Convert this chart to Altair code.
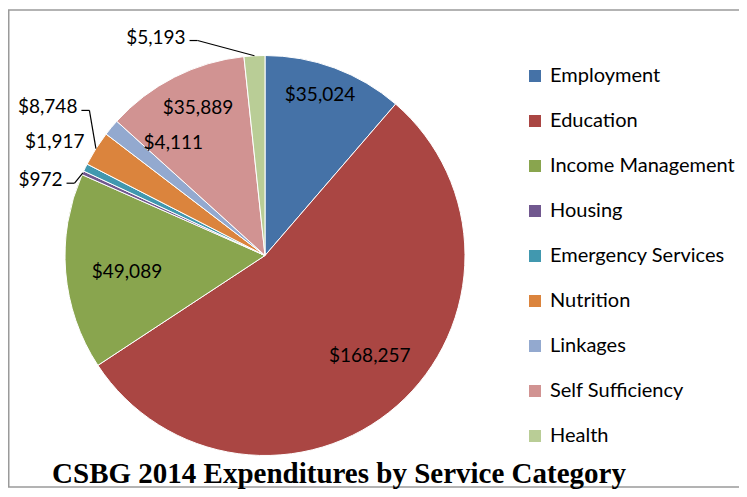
import altair as alt
import pandas as pd

# ---- data ----
categories = ["Employment", "Education", "Income Management", "Housing",
              "Emergency Services", "Nutrition", "Linkages", "Self Sufficiency", "Health"]
amounts = [35024, 168257, 49089, 972, 1917, 8748, 4111, 35889, 5193]
colors = ["#4572A7", "#AA4643", "#89A54E", "#71588F", "#4198AF",
          "#DB843D", "#93A9CF", "#D19392", "#B9CD96"]
chart_title = "CSBG 2014 Expenditures by Service Category"

# ---- label layout (style only): radius in px, angle shift in degrees, kind ----
label_radius = [170, 145, 139, 216, 213, 239, 145, 162, 232]
label_shift = [-1.5, -5, -2, -4, 6, 6, 11, 2.5, -17]
label_kind = ["in", "in", "in", "lead", "out", "lead", "in", "in", "lead"]

W, H = 731, 481
CX, CY, R = 257, 247.5, 200
FONT = "Lato"

df = pd.DataFrame({
    "category": categories,
    "amount": amounts,
    "order": list(range(len(categories))),
    "label": [f"${v:,}" for v in amounts],
    "lr": label_radius,
    "shift": label_shift,
    "kind": label_kind,
})

pie = alt.Chart(df).mark_arc(outerRadius=R, stroke="white", strokeWidth=1).encode(
    theta=alt.Theta("amount:Q", stack=True),
    color=alt.Color(
        "category:N", sort=categories,
        scale=alt.Scale(domain=categories, range=colors),
        legend=alt.Legend(
            title=None, orient="none", legendX=517, legendY=58,
            symbolType="square", symbolSize=144, symbolStrokeWidth=0,
            labelFont=FONT, labelFontSize=20, labelColor="#000000",
            labelLimit=400, rowPadding=25, labelOffset=5, padding=0,
        ),
    ),
    order=alt.Order("order:Q"),
    x=alt.value(CX),
    y=alt.value(CY),
)

lab = (
    alt.Chart(df)
    .transform_joinaggregate(total="sum(amount)")
    .transform_window(cum="sum(amount)", sort=[alt.SortField("order")], frame=[None, 0])
    .transform_calculate(mid="2*PI*(datum.cum - datum.amount/2)/datum.total")
    .transform_calculate(ang="datum.mid + datum.shift*PI/180")
    .transform_calculate(lx=f"{CX} + datum.lr*sin(datum.ang)")
    .transform_calculate(ly=f"{CY} - datum.lr*cos(datum.ang)")
    .transform_calculate(ex=f"{CX} + {R}*sin(datum.mid)")
    .transform_calculate(ey=f"{CY} - {R}*cos(datum.mid)")
    .transform_calculate(sx="datum.lx + 4")
    .transform_calculate(bx="datum.lx + 12")
    .transform_calculate(sy="datum.ly + 3")
)

xs = lambda f: alt.X(f, scale=None, axis=None)
ys = lambda f: alt.Y(f, scale=None, axis=None)

inside = lab.transform_filter("datum.kind == 'in'").mark_text(
    font=FONT, fontSize=19, align="center", baseline="middle", color="#000000"
).encode(x=xs("lx:Q"), y=ys("ly:Q"), text="label:N")

outside = lab.transform_filter("datum.kind != 'in'").mark_text(
    font=FONT, fontSize=19, align="right", baseline="middle", color="#000000"
).encode(x=xs("lx:Q"), y=ys("ly:Q"), text="label:N")

lead1 = lab.transform_filter("datum.kind == 'lead'").mark_rule(
    color="#000000", strokeWidth=1.2
).encode(x=xs("sx:Q"), x2="bx:Q", y=ys("sy:Q"), y2="sy:Q")

lead2 = lab.transform_filter("datum.kind == 'lead'").mark_rule(
    color="#000000", strokeWidth=1.2
).encode(x=xs("bx:Q"), x2="ex:Q", y=ys("sy:Q"), y2="ey:Q")

# chart-area frame: its right side runs past the picture edge, as in the original
frame = alt.Chart(pd.DataFrame({"f": [0]})).mark_rect(
    fill="transparent", stroke="#9a9a9a", strokeWidth=1.5
).encode(x=alt.value(0.75), x2=alt.value(W + 30), y=alt.value(2), y2=alt.value(479))

title = alt.Chart(pd.DataFrame({"t": [chart_title]})).mark_text(
    font="Liberation Serif", fontWeight="bold", fontSize=29,
    align="center", baseline="alphabetic", color="#000000"
).encode(text="t:N", x=alt.value(331), y=alt.value(475))

chart = alt.layer(
    frame, pie, lead1, lead2, inside, outside, title
).properties(
    width=W, height=H, padding=0,
    autosize=alt.AutoSizeParams(type="none"),
    background="white",
).configure_view(stroke="transparent", strokeWidth=0)

chart.save("out.html", embed_options={"renderer": "svg", "actions": False})
